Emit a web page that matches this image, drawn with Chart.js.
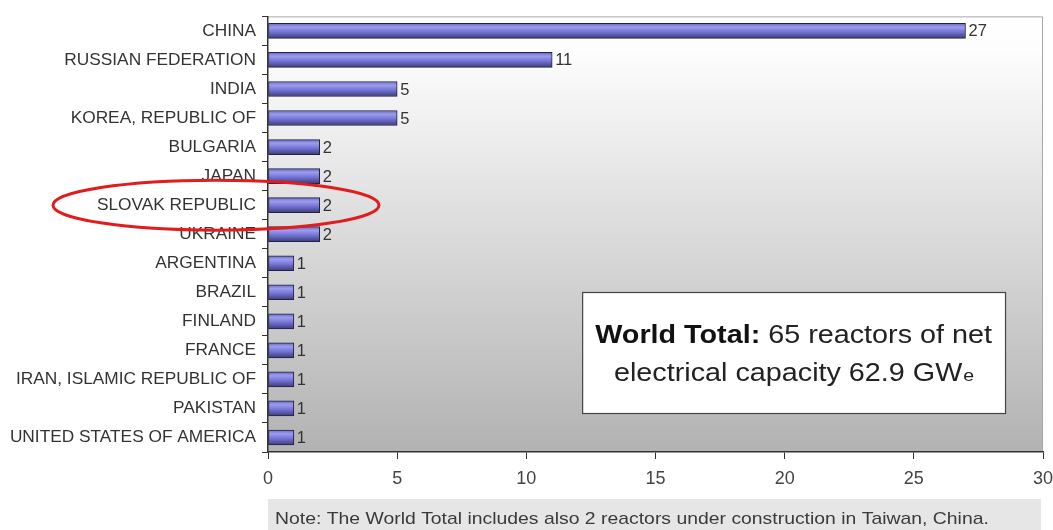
<!DOCTYPE html>
<html><head><meta charset="utf-8">
<script src="https://cdn.jsdelivr.net/npm/chart.js@4.4.0/dist/chart.umd.min.js"></script>
<style>html,body{margin:0;padding:0;background:#fff;}#wrap{width:1053px;height:530px;position:relative;}</style>
</head><body><div id="wrap"><canvas id="c" width="1053" height="530"></canvas></div>
<script>
const categories = ["CHINA","RUSSIAN FEDERATION","INDIA","KOREA, REPUBLIC OF","BULGARIA","JAPAN","SLOVAK REPUBLIC","UKRAINE","ARGENTINA","BRAZIL","FINLAND","FRANCE","IRAN, ISLAMIC REPUBLIC OF","PAKISTAN","UNITED STATES OF AMERICA"];
const reactors = [27,11,5,5,2,2,2,2,1,1,1,1,1,1,1];
const xTicks = [0,5,10,15,20,25,30];
const highlighted = "SLOVAK REPUBLIC";
const boxLine1Bold = "World Total:";
const boxLine1Rest = " 65 reactors of net";
const boxLine2 = "electrical capacity 62.9 GW";
const boxLine2Sub = "e";
const noteText = "Note: The World Total includes also 2 reactors under construction in Taiwan, China.";

const FONT = '"Liberation Sans", Arial, sans-serif';

function stretchedText(ctx, text, x, y, sx) {
  ctx.save();
  ctx.translate(x, y);
  ctx.scale(sx, 1);
  ctx.fillText(text, 0, 0);
  ctx.restore();
}

const bgPlugin = {
  id: 'bg',
  beforeDraw(chart) {
    const {ctx, chartArea: a} = chart;
    const g = ctx.createLinearGradient(0, a.top, 0, a.bottom);
    g.addColorStop(0, '#ffffff');
    g.addColorStop(0.08, '#fdfdfd');
    g.addColorStop(1, '#b2b2b2');
    ctx.save();
    ctx.fillStyle = g;
    ctx.fillRect(a.left, a.top, a.right - a.left, a.bottom - a.top);
    ctx.strokeStyle = '#a8a8a8';
    ctx.lineWidth = 1;
    ctx.beginPath();
    ctx.moveTo(a.left, a.top + 0.5);
    ctx.lineTo(a.right - 0.5, a.top + 0.5);
    ctx.lineTo(a.right - 0.5, a.bottom);
    ctx.stroke();
    ctx.fillStyle = '#e6e6e6';
    ctx.fillRect(a.left, 499, a.right - a.left - 2, 31);
    ctx.fillStyle = '#3a3a3a';
    ctx.font = '17px ' + FONT;
    ctx.textBaseline = 'alphabetic';
    stretchedText(ctx, noteText, a.left + 7, 524, 1.14);
    ctx.restore();
  },
  afterDatasetsDraw(chart) {
    const {ctx} = chart;
    const meta = chart.getDatasetMeta(0);
    ctx.save();
    ctx.fillStyle = '#333';
    ctx.font = '16.5px ' + FONT;
    ctx.textBaseline = 'middle';
    meta.data.forEach((el, i) => {
      ctx.fillText(String(reactors[i]), el.x + 3, el.y + 1);
    });
    ctx.restore();
  },
  afterDraw(chart) {
    const {ctx} = chart;
    const xs = chart.scales.x, ys = chart.scales.y;
    ctx.save();
    const bx = xs.getPixelForValue(12.16), bx2 = xs.getPixelForValue(28.53);
    const by = 292, by2 = 413;
    ctx.fillStyle = '#fff';
    ctx.fillRect(bx, by, bx2 - bx, by2 - by);
    ctx.strokeStyle = '#444';
    ctx.lineWidth = 1.2;
    ctx.strokeRect(bx + 0.5, by + 0.5, bx2 - bx, by2 - by);
    const cx = (bx + bx2) / 2;
    const SX = 1.15;
    ctx.textBaseline = 'alphabetic';
    ctx.font = 'bold 25px ' + FONT;
    const w1 = ctx.measureText(boxLine1Bold).width * SX;
    ctx.font = '25px ' + FONT;
    const w2 = ctx.measureText(boxLine1Rest).width * SX;
    let x0 = cx - (w1 + w2) / 2;
    ctx.fillStyle = '#111';
    ctx.font = 'bold 25px ' + FONT;
    stretchedText(ctx, boxLine1Bold, x0, 343, SX);
    ctx.font = '25px ' + FONT;
    ctx.fillStyle = '#222';
    stretchedText(ctx, boxLine1Rest, x0 + w1, 343, SX);
    const w3 = ctx.measureText(boxLine2).width * SX;
    ctx.font = '17px ' + FONT;
    const w4 = ctx.measureText(boxLine2Sub).width * SX;
    x0 = cx - (w3 + w4) / 2;
    ctx.font = '25px ' + FONT;
    stretchedText(ctx, boxLine2, x0, 381, SX);
    ctx.font = '17px ' + FONT;
    stretchedText(ctx, boxLine2Sub, x0 + w3 + 1, 381, SX);
    const idx = categories.indexOf(highlighted);
    const ey = ys.getPixelForValue(idx);
    ctx.strokeStyle = '#e01c1c';
    ctx.lineWidth = 3;
    ctx.beginPath();
    ctx.ellipse(216, ey, 163, 25, 0, 0, Math.PI * 2);
    ctx.stroke();
    ctx.restore();
  }
};

function barFill(context) {
  const chart = context.chart;
  const ys = chart.scales.y;
  if (!ys || context.dataIndex === undefined) return '#7878d8';
  const y = ys.getPixelForValue(context.dataIndex);
  if (!isFinite(y)) return '#7878d8';
  const g = chart.ctx.createLinearGradient(0, y - 7.5, 0, y + 7.5);
  g.addColorStop(0, '#6a6ac4');
  g.addColorStop(0.25, '#9c9cee');
  g.addColorStop(0.55, '#7676d8');
  g.addColorStop(1, '#3c3c7a');
  return g;
}

const chart = new Chart(document.getElementById('c'), {
  type: 'bar',
  data: {
    labels: categories,
    datasets: [{
      data: reactors,
      backgroundColor: barFill,
      borderColor: '#22223e',
      borderWidth: 1,
      borderSkipped: false,
      barThickness: 15
    }]
  },
  plugins: [bgPlugin],
  options: {
    indexAxis: 'y',
    responsive: false,
    animation: false,
    devicePixelRatio: 1,
    layout: { padding: { top: 15, right: 10, left: 0, bottom: 0 } },
    plugins: { legend: { display: false }, tooltip: { enabled: false } },
    scales: {
      x: {
        min: 0, max: 30,
        afterBuildTicks(scale) { scale.ticks = xTicks.map(v => ({value: v})); },
        afterFit(scale) { scale.height = 78; scale.paddingLeft = 0; scale.paddingRight = 0; },
        grid: { display: true, drawOnChartArea: false, drawTicks: true, tickLength: 7, color: '#333', lineWidth: 1 },
        border: { display: true, color: '#333', width: 1.5 },
        ticks: { color: '#444', font: { size: 18, family: FONT }, padding: 9, maxRotation: 0 }
      },
      y: {
        afterFit(scale) { scale.width = 268; },
        grid: { display: true, offset: true, drawOnChartArea: false, tickLength: 6, color: '#333', lineWidth: 1 },
        border: { display: true, color: '#333', width: 1.5 },
        ticks: { color: '#333', font: { size: 17.3, family: FONT }, padding: 6, autoSkip: false }
      }
    }
  }
});
chart.update();
</script></body></html>
